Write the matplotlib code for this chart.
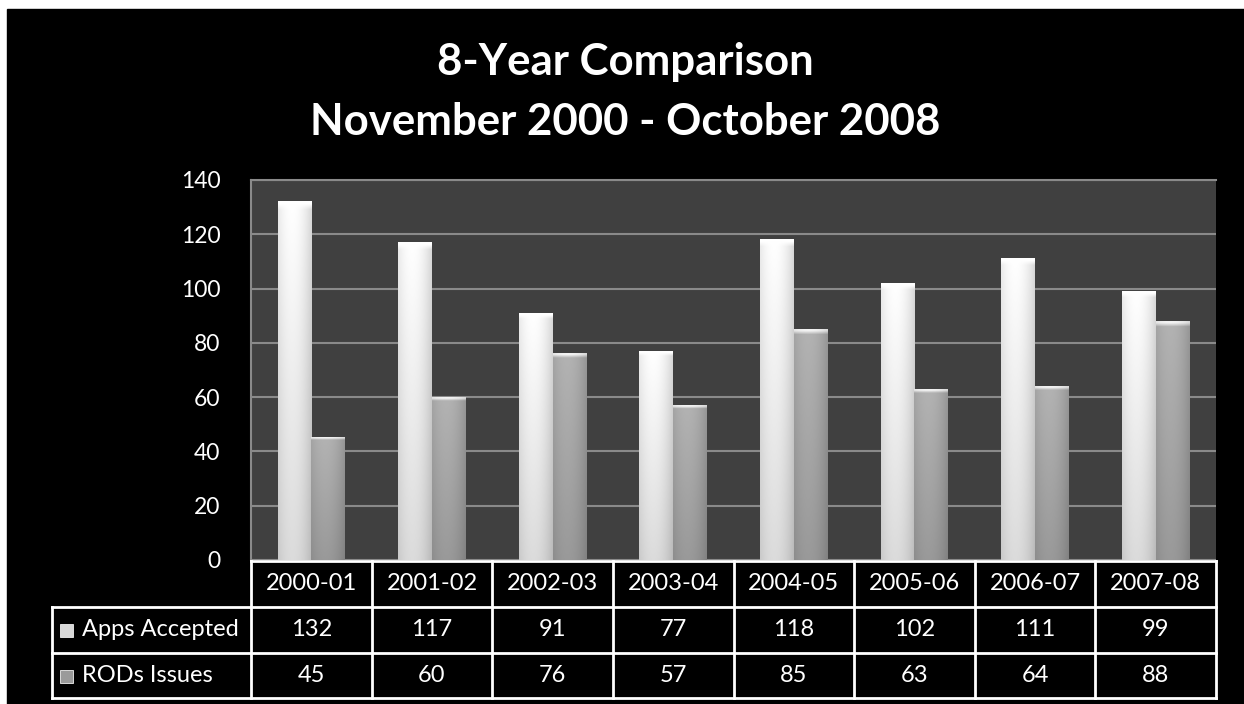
import matplotlib
matplotlib.use("Agg")
import matplotlib.pyplot as plt
import matplotlib.patches as mpatches
import matplotlib.transforms as mtransforms
import numpy as np

plt.rcParams["font.family"] = ["Lato", "DejaVu Sans"]

# --- data -------------------------------------------------------------------
years = ["2000-01", "2001-02", "2002-03", "2003-04",
         "2004-05", "2005-06", "2006-07", "2007-08"]
apps_accepted = [132, 117, 91, 77, 118, 102, 111, 99]
rods_issues = [45, 60, 76, 57, 85, 63, 64, 88]
series_names = ["Apps Accepted", "RODs Issues"]

W, H = 1244, 704
fig = plt.figure(figsize=(W / 100, H / 100), dpi=100, facecolor="white")

# black slide background (small white margin top / left as in the source)
fig.patches.append(mpatches.Rectangle((7 / W, 0), 1 - 7 / W, 1 - 9 / H,
                                      transform=fig.transFigure,
                                      color="black", zorder=-10))

ax = fig.add_axes([251 / W, 1 - 560 / H, (1216 - 251) / W, 380 / H])
ax.set_facecolor("#404040")

x = np.arange(len(years))
bw = 0.28


def shaded(v_lo, v_hi, top_light):
    # cylinder-like horizontal shading with a slight vertical fade
    u = np.linspace(0, 1, 64)
    prof = 1 - 0.55 * ((u - 0.42) / 0.58) ** 2
    t = np.linspace(1, 0, 64)[:, None]
    val = v_lo + (v_hi - v_lo) * prof[None, :]
    val = val * (0.86 + 0.14 * t) + top_light * (t > 0.985)
    return np.clip(np.dstack([val, val, val]), 0, 1)


bars_a = ax.bar(x - bw / 2, apps_accepted, bw, color="none", zorder=2)
bars_r = ax.bar(x + bw / 2, rods_issues, bw, color="none", zorder=2)
for bars, lo, hi in [(bars_a, 0.72, 1.0), (bars_r, 0.50, 0.70)]:
    for p in bars:
        x0, w, h = p.get_x(), p.get_width(), p.get_height()
        ax.imshow(shaded(lo, hi, 0.25), extent=[x0, x0 + w, 0, h],
                  aspect="auto", interpolation="bilinear", zorder=2)

ax.set_xlim(-0.5, len(years) - 0.5)
ax.set_ylim(0, 140)
ax.set_yticks(range(0, 141, 20))
ax.yaxis.grid(True, color="#8a8a8a", linewidth=1.5, zorder=1)
ax.set_axisbelow(True)
ax.set_xticks([])
ax.tick_params(axis="y", length=0, pad=22, labelsize=16.5, labelcolor="white")
for s in ["right", "bottom"]:
    ax.spines[s].set_visible(False)
for s in ["left", "top"]:
    ax.spines[s].set_color("#8a8a8a")
    ax.spines[s].set_linewidth(1.5)

# --- data table ---------------------------------------------------------------
tr = mtransforms.blended_transform_factory(ax.transData, fig.transFigure)
fy = lambda py: 1 - py / H
rows_y = [561, 607, 653, 698]
lc = dict(color="white", linewidth=2, transform=tr, clip_on=False)
xl = -0.5 - (251 - 52) / ((1216 - 251) / len(years))

for py in rows_y:
    x_start = -0.5 if py == rows_y[0] else xl
    fig.add_artist(plt.Line2D([x_start, len(years) - 0.5], [fy(py), fy(py)], **lc))
for i in range(len(years) + 1):
    fig.add_artist(plt.Line2D([i - 0.5, i - 0.5], [fy(rows_y[0]), fy(rows_y[-1])], **lc))
fig.add_artist(plt.Line2D([xl, xl], [fy(rows_y[1]), fy(rows_y[-1])], **lc))

for i, yr in enumerate(years):
    fig.text(i, fy((rows_y[0] + rows_y[1]) / 2), yr, transform=tr,
             ha="center", va="center", color="white", fontsize=17)
for r, vals in enumerate([apps_accepted, rods_issues]):
    yc = fy((rows_y[r + 1] + rows_y[r + 2]) / 2)
    for i, v in enumerate(vals):
        fig.text(i, yc, str(v), transform=tr, ha="center", va="center",
                 color="white", fontsize=17)
    shade = ["#d8d8d8", "#9a9a9a"][r]
    fig.patches.append(mpatches.Rectangle((60 / W, yc - 7 / H), 13 / W, 13 / H,
                                          transform=fig.transFigure,
                                          facecolor=shade, edgecolor="#f0f0f0",
                                          linewidth=0.6, zorder=3))
    fig.text(82 / W, yc, series_names[r], ha="left", va="center",
             color="white", fontsize=17)

fig.text(0.5 + 3 / W, fy(62), "8-Year Comparison", ha="center", va="center",
         color="white", fontsize=31.5, fontweight="bold")
fig.text(0.5 + 3 / W, fy(122), "November 2000 - October 2008", ha="center",
         va="center", color="white", fontsize=31.5, fontweight="bold")

fig.savefig("out.png", dpi=100, facecolor=fig.get_facecolor())
